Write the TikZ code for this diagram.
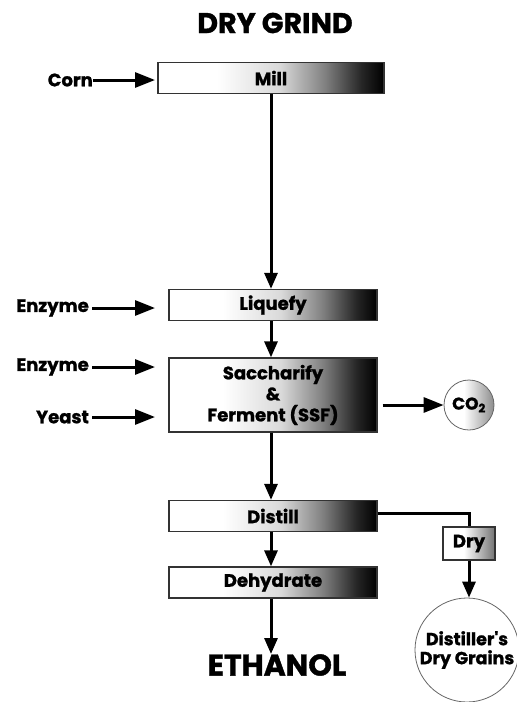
\documentclass[tikz,border=0pt]{standalone}
\usepackage{fontspec}
\setmainfont{Poppins}[BoldFeatures={FakeBold=1.2}]
\usetikzlibrary{arrows.meta}
\pgfdeclarehorizontalshading{boxshade}{100bp}{color(0bp)=(white); color(38bp)=(white); color(52bp)=(black!15); color(62bp)=(black!50); color(70bp)=(black!85); color(75bp)=(black); color(100bp)=(black)}
\pgfdeclarehorizontalshading{dryshade}{100bp}{color(0bp)=(white); color(45bp)=(white); color(75bp)=(black!55); color(100bp)=(black!55)}
\pgfdeclarehorizontalshading{coshade}{100bp}{color(0bp)=(white); color(45bp)=(white); color(75bp)=(black!45); color(100bp)=(black!45)}
\begin{document}
\begin{tikzpicture}[x=1pt,y=-1pt,
  box/.style={draw=black!80, line width=1.3pt, shading=boxshade, minimum height=31pt, minimum width=208pt, inner sep=0pt, font=\bfseries\fontsize{18}{21}\selectfont},
  arr/.style={line width=3pt, -{Triangle[length=16pt,width=13pt]}},
  harr/.style={line width=3pt, -{Triangle[length=20pt,width=15pt]}},
  lbl/.style={font=\bfseries\fontsize{18}{20}\selectfont, anchor=east, inner sep=0pt},
  big/.style={font=\bfseries\fontsize{28.5}{30}\selectfont, inner sep=0pt}]
\useasboundingbox (0,0) rectangle (517,702);
% title
\node[big] (title) at (275,23) {DRY GRIND};
% boxes
\node[box, minimum width=226pt] (mill) at (271,78) {Mill};
\node[box] (liq) at (273,305) {Liquefy};
\node[box, minimum height=74pt, align=center] (ssf) at (273,395) {Saccharify\\\&\\Ferment (SSF)};
\node[box] (dist) at (273,516) {Distill};
\node[box] (deh) at (273,582.5) {Dehydrate};
\node[big, font=\bfseries\fontsize{30}{32}\selectfont] (eth) at (277,665) {ETHANOL};
% side boxes
\node[draw=black!80, line width=1.3pt, shading=dryshade, minimum width=52pt, minimum height=33pt, inner sep=0pt, font=\bfseries\fontsize{18}{20}\selectfont] (dry) at (469,543.5) {Dry};
\node[draw=black!60, line width=0.8pt, circle, minimum size=104pt, inner sep=0pt, align=center, font=\bfseries\fontsize{17.5}{19}\selectfont] (ddg) at (467,650) {Distiller\textquotesingle s\\Dry Grains};
\node[draw=black!60, line width=0.8pt, circle, shading=coshade, minimum size=50pt, inner sep=0pt, font=\bfseries\fontsize{17}{18}\selectfont] (co2) at (469,405) {CO\textsubscript{2}};
% inputs
\node[lbl] (corn) at (93,80) {Corn};
\node[lbl] (enz1) at (89,308) {Enzyme};
\node[lbl] (enz2) at (89,367) {Enzyme};
\node[lbl] (yeast) at (89,417) {Yeast};
\coordinate (cornE) at (155,80);
\coordinate (enz1E) at (155,308);
\coordinate (enz2E) at (155,367);
\coordinate (yeastE) at (155,417);
\draw[harr] (corn.east) -- (cornE);
\draw[harr] (enz1.east) ++(3,0) -- (enz1E);
\draw[harr] (enz2.east) ++(3,0) -- (enz2E);
\draw[harr] (yeast.east) ++(3,0) -- (yeastE);
% main flow
\draw[arr] (mill.south) -- (mill.south |- liq.north);
\draw[arr] (mill.south |- liq.south) -- (mill.south |- ssf.north);
\draw[arr] (mill.south |- ssf.south) -- (mill.south |- dist.north);
\draw[arr] (mill.south |- dist.south) -- (mill.south |- deh.north);
\draw[arr] (mill.south |- deh.south) -- (mill.south |- eth.north);
\draw[harr, shorten <=5pt] (ssf.east |- co2) -- (co2.west);
\draw[line width=3pt] (dist.east) ++(0,-3) -| (dry.north);
\draw[arr] (dry.south) -- (dry.south |- ddg.north);
\end{tikzpicture}
\end{document}
